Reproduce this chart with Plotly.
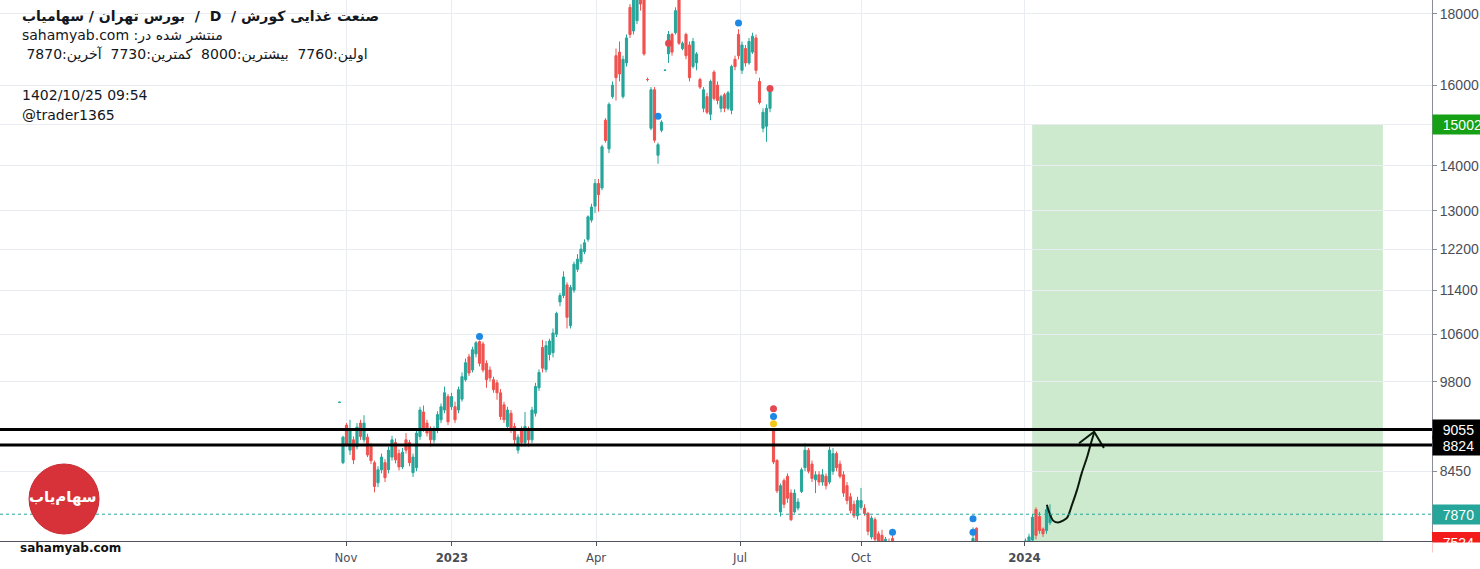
import math
import plotly.graph_objects as go

# ---------------- data ----------------
bar_idx = list(range(-1, 158)) + [180, 181] + list(range(195, 203))

opens = [9470,
 8570, 9120, 8750, 8900, 8800, 9150, 8900, 8940, 8800, 8570,
 8290, 8470, 8570, 8470, 8650, 8860, 8700, 8510, 8900, 8860,
 8430, 8500, 8950, 9320, 9150, 9050, 8900, 9050, 9200, 9350,
 9560, 9400, 9400, 9350, 9520, 9830, 10210, 9990, 10260, 10470,
 10430, 10100, 9990, 9830, 9780, 9620, 9430, 9100, 9300, 9100,
 8750, 9050, 8860, 9050, 8900, 9300, 9700, 10370, 10000, 10250,
 10280, 10600, 11180, 11300, 11500, 10750, 11400, 11800, 11950, 12150,
 12400, 12800, 13100, 13600, 13500, 15100, 14400, 15700, 16800, 16900,
 15700, 16600, 18200, 17500, 17800, 18800, 18500, 16150, 14900, 15880,
 14250, 14850, 16400, 16850, 17400, 17450, 18500, 17000, 17400, 17100,
 16500, 16600, 16150, 15400, 15700, 15250, 16350, 16000, 15400, 15750,
 15400, 15350, 16700, 17400, 16400, 17000, 16600, 16900, 17300, 16100,
 14900, 14950, 15400, 9050, 8600, 7900, 8320, 8380, 8150, 7900,
 7950, 8170, 8500, 8750, 8550, 8330, 8400, 8300, 8380, 8300,
 8450, 8700, 8550, 8400, 8250, 8100, 8000, 7850, 7960, 7950,
 7880, 7580, 7800, 7620, 7600, 7400, 7500, 7560,
 7500, 7690,
 7400, 7450, 7540, 7930, 7840, 7680, 7660, 7760]

highs = [9480,
 8960, 9150, 9200, 8950, 9150, 9200, 9270, 8990, 8850, 8600,
 8520, 8700, 8620, 8800, 8960, 8920, 8760, 8780, 9000, 8900,
 8700, 9050, 9400, 9420, 9200, 9100, 9100, 9330, 9450, 9720,
 9600, 9620, 9480, 9720, 9950, 10180, 10260, 10380, 10480, 10490,
 10470, 10150, 10050, 9880, 9830, 9680, 9480, 9400, 9350, 9150,
 8980, 9100, 9320, 9100, 9400, 9780, 10000, 10500, 10480, 10520,
 10700, 11000, 11350, 11760, 11550, 11500, 11950, 12100, 12300, 12400,
 12900, 13150, 13700, 13700, 14500, 15150, 15550, 16100, 17000, 17200,
 16800, 17400, 18300, 18600, 18800, 19000, 18700, 16200, 15950, 15950,
 14550, 15100, 16420, 17500, 17450, 18200, 18600, 17200, 17450, 17200,
 17300, 16900, 16200, 15950, 15800, 16150, 16400, 16100, 15750, 15800,
 15850, 16550, 16800, 17550, 17200, 17100, 17300, 17450, 17400, 16200,
 15400, 15500, 15950, 9070, 8620, 8280, 8350, 8420, 8200, 8200,
 8080, 8500, 8850, 8780, 8600, 8450, 8450, 8480, 8420, 8800,
 8780, 8730, 8600, 8450, 8300, 8150, 8050, 8100, 8220, 8000,
 7900, 7850, 7830, 7650, 7670, 7580, 7560, 7600,
 7700, 7700,
 7560, 7620, 7870, 7960, 7900, 7700, 7960, 8000]

lows = [9460,
 8550, 8800, 8680, 8550, 8760, 8900, 8860, 8650, 8550, 8160,
 8230, 8420, 8300, 8420, 8600, 8560, 8460, 8480, 8700, 8520,
 8370, 8450, 8900, 9020, 8950, 8800, 8850, 9000, 9150, 9300,
 9120, 9350, 9150, 9300, 9480, 9800, 9890, 9950, 10200, 10050,
 9950, 9700, 9800, 9620, 9510, 9200, 9150, 9050, 9000, 8830,
 8700, 8800, 8800, 8800, 8850, 9250, 9650, 9950, 9950, 10150,
 10200, 10550, 11100, 11250, 10700, 10700, 11350, 11750, 11900, 12100,
 12350, 12750, 12950, 12980, 13450, 14550, 14300, 15650, 15600, 16100,
 15650, 16500, 17300, 17400, 17700, 18100, 16800, 16100, 14850, 14550,
 14050, 14800, 16380, 16600, 16800, 17400, 17100, 16950, 16700, 16100,
 16450, 16400, 15900, 15300, 15250, 15100, 15600, 15500, 15300, 15300,
 15350, 15250, 16400, 16700, 16300, 16500, 16550, 16850, 16300, 15500,
 14800, 14570, 15300, 8550, 8150, 7840, 7950, 8020, 7780, 7880,
 7920, 8150, 8450, 8420, 8300, 8150, 8250, 8250, 8200, 8270,
 8400, 8450, 8350, 8100, 8000, 7880, 7820, 7800, 7930, 7850,
 7600, 7550, 7500, 7400, 7350, 7350, 7300, 7400,
 7400, 7400,
 7350, 7400, 7520, 7550, 7620, 7580, 7620, 7730]

closes = [9470,
 8940, 8830, 9050, 8610, 9090, 8950, 9150, 8680, 8600, 8240,
 8470, 8650, 8360, 8750, 8900, 8610, 8510, 8720, 8750, 8570,
 8650, 9000, 9350, 9080, 9000, 8900, 9050, 9280, 9400, 9620,
 9170, 9560, 9200, 9670, 9880, 10110, 9940, 10330, 10450, 10100,
 9990, 9830, 9860, 9670, 9620, 9250, 9200, 9350, 9050, 8900,
 8940, 8860, 9100, 8900, 9350, 9720, 9950, 10020, 10400, 10480,
 10620, 10970, 11300, 11650, 10900, 11450, 11900, 12000, 12200, 12330,
 12870, 13080, 13600, 13350, 14450, 14600, 15500, 16000, 16200, 16300,
 16700, 17300, 17400, 18500, 18600, 18300, 16850, 16150, 15880, 14610,
 14500, 15050, 16400, 17400, 16900, 18100, 17150, 17150, 16800, 16200,
 17200, 16850, 15950, 15880, 15300, 16100, 15650, 15600, 15700, 15400,
 15800, 16500, 16500, 16800, 17100, 16600, 17200, 17350, 16400, 15550,
 15300, 15400, 15900, 8580, 8180, 8250, 8000, 8080, 7800, 8150,
 8030, 8470, 8750, 8450, 8350, 8400, 8300, 8400, 8250, 8750,
 8700, 8500, 8380, 8150, 8050, 7920, 7850, 8050, 8050, 7880,
 7650, 7820, 7550, 7450, 7400, 7550, 7350, 7450,
 7560, 7480,
 7530, 7580, 7830, 7600, 7660, 7620, 7930, 7870]

# event markers (dividend / split etc.)
event_idx = [39, 90, 93, 113, 122, 123, 123, 123, 157, 180, 180]
event_price = [10560, 15200, 17150, 17730, 15910, 9370, 9250, 9140, 7640, 7810, 7640]
event_color = ["#1e88e5", "#1e88e5", "#e5484f", "#1e88e5", "#e5484f",
               "#e5484f", "#1e88e5", "#f5c518", "#1e88e5", "#1e88e5", "#1e88e5"]

# x ticks (bar positions of month starts)
tick_pos = [0.857, 31.14, 72.29, 113.43, 148.0, 194.71]
tick_text = ["Nov", "<b>2023</b>", "Apr", "Jul", "Oct", "<b>2024</b>"]

# price axis ticks (15000 label sits under the 15002 tag)
ytick_vals = [8450, 9800, 10600, 11400, 12200, 13000, 14000, 15000, 16000, 18000]
ytick_text = ["8450", "9800", "10600", "11400", "12200", "13000", "14000", "", "16000", "18000"]

# drawn levels / tools
support_levels = [9055, 8824]
last_price = 7870
target_price = 15002
stop_price = 7524
zone_start_idx, zone_end_idx = 196.9, 297.1

# hand-drawn arrow (bar index, price)
arrow_x = [201.1, 202.0, 202.9, 204.3, 205.7, 206.9, 208.3, 209.7, 211.1, 212.6, 213.7, 214.6]
arrow_y = [7995, 7865, 7787, 7762, 7787, 7826, 7995, 8190, 8430, 8650, 8850, 9005]
head_x = [210.3, 214.6, 217.4]
head_y = [8850, 9020, 8780]

# price labels on the axis
price_labels = [(15002, "15002", "#16a016"), (9055, "9055", "#000000"),
                (8824, "8824", "#000000"), (7870, "7870", "#26a69a")]

# ---------------- layout helpers ----------------
W, H = 1480, 569
MR, MB = 48, 28
PW, PH = W - MR, H - MB


def px(x):
    return x / PW


def py(y):
    return (PH - y) / PH


UP, DOWN = "#26a69a", "#ef5350"
GRID = "#e9edf2"
FONT = "DejaVu Sans"

fig = go.Figure()

fig.add_trace(go.Candlestick(
    x=bar_idx, open=opens, high=highs, low=lows, close=closes,
    increasing=dict(line=dict(color=UP, width=1), fillcolor=UP),
    decreasing=dict(line=dict(color=DOWN, width=1), fillcolor=DOWN),
    whiskerwidth=0, hoverinfo="skip", showlegend=False))

fig.add_trace(go.Scatter(
    x=event_idx, y=event_price, mode="markers",
    marker=dict(size=7, color=event_color, line=dict(width=0)),
    hoverinfo="skip", showlegend=False))

fig.add_trace(go.Scatter(
    x=arrow_x, y=arrow_y, mode="lines",
    line=dict(color="#0c1a0c", width=2, shape="spline", smoothing=0.8),
    hoverinfo="skip", showlegend=False))
fig.add_trace(go.Scatter(
    x=head_x, y=head_y, mode="lines",
    line=dict(color="#0c1a0c", width=2),
    hoverinfo="skip", showlegend=False))

shapes = []
# long-position target zone
shapes.append(dict(type="rect", xref="x", yref="y", x0=zone_start_idx, x1=zone_end_idx,
                   y0=7300, y1=target_price, fillcolor="rgba(76,175,80,0.28)",
                   line=dict(width=0), layer="below"))
# last price dotted line
shapes.append(dict(type="line", xref="paper", yref="y", x0=0, x1=1, y0=last_price, y1=last_price,
                   line=dict(color=UP, width=1, dash="dot")))
for lv in support_levels:
    shapes.append(dict(type="line", xref="paper", yref="y", x0=0, x1=1, y0=lv, y1=lv,
                       line=dict(color="#000000", width=3)))
# logo circle
shapes.append(dict(type="circle", xref="paper", yref="paper",
                   x0=px(29), x1=px(99), y0=py(534), y1=py(464),
                   fillcolor="#d7323a", line=dict(color="#c92a32", width=1)))
# stop label (partly hidden)
shapes.append(dict(type="rect", xref="paper", yref="paper",
                   x0=1.0, x1=W / PW, y0=py(541), y1=py(532),
                   fillcolor="#f21c1c", line=dict(width=0)))

annotations = []
RLE, PDF = "\u202b", "\u202c"
NB = "\u00a0"
header = [
    (16, RLE + "صنعت غذایی کورش /" + NB + " D " + NB + "/" + NB + " بورس تهران / سهامیاب" + PDF, True),
    (35, RLE + "منتشر شده در: sahamyab.com" + PDF, False),
    (55, RLE + "اولین:7760" + NB + " بیشترین:8000" + NB + " کمترین:7730" + NB + " آخرین:7870" + NB + PDF, False),
    (95, "1402/10/25 09:54", False),
    (115, "@trader1365", False),
]
for ypx, txt, bold in header:
    annotations.append(dict(xref="paper", yref="paper", x=px(20), y=py(ypx),
                            xanchor="left", yanchor="middle", showarrow=False,
                            text=("<b>%s</b>" % txt) if bold else txt,
                            font=dict(family=FONT, size=14, color="#131722")))

for val, txt, col in price_labels:
    annotations.append(dict(xref="paper", yref="y", x=1.0, y=math.log10(val),
                            xanchor="left", yanchor="middle", showarrow=False,
                            text=NB + NB + txt, align="left", width=60, height=15,
                            bgcolor=col, borderpad=2,
                            font=dict(family="Liberation Sans", size=14, color="#ffffff")))
annotations.append(dict(xref="paper", yref="paper", x=1.0, y=py(532), xanchor="left",
                        yanchor="top", showarrow=False, text=NB + NB + "7524", align="left",
                        width=60, height=15, bgcolor="#f21c1c", borderpad=2,
                        font=dict(family="Liberation Sans", size=14, color="#ffffff")))
annotations.append(dict(xref="paper", yref="paper", x=1.0, y=py(541.5), xanchor="left",
                        yanchor="top", showarrow=False, text=" ", width=70, height=22,
                        bgcolor="#ffffff", borderpad=0))

# logo texts
annotations.append(dict(xref="paper", yref="paper", x=px(63), y=py(497),
                        xanchor="center", yanchor="middle", showarrow=False,
                        text="<b>" + RLE + "سهام‌یاب" + PDF + "</b>",
                        font=dict(family=FONT, size=15, color="#ffffff")))
annotations.append(dict(xref="paper", yref="paper", x=px(18), y=py(548),
                        xanchor="left", yanchor="middle", showarrow=False,
                        text="<b>sahamyab.com</b>",
                        font=dict(family=FONT, size=12, color="#111111")))

fig.update_layout(
    width=W, height=H,
    margin=dict(l=0, r=MR, t=0, b=MB, pad=0),
    paper_bgcolor="#ffffff", plot_bgcolor="#ffffff",
    shapes=shapes, annotations=annotations,
    hovermode=False, showlegend=False, boxgap=0.12,
    xaxis=dict(range=[-98, 311.14], tickmode="array", tickvals=tick_pos, ticktext=tick_text,
               showgrid=True, gridcolor=GRID, gridwidth=1, zeroline=False,
               showline=True, linecolor="#50535e", linewidth=1,
               ticks="outside", ticklen=4, tickcolor="#50535e",
               tickfont=dict(family="Liberation Sans Narrow, DejaVu Sans Condensed, Liberation Sans",
                             size=13, color="#4a4d57"),
               rangeslider=dict(visible=False), fixedrange=True, automargin=False),
    yaxis=dict(type="log", side="right",
               range=[math.log10(7529), math.log10(18421)],
               tickmode="array", tickvals=ytick_vals, ticktext=ytick_text,
               showgrid=True, gridcolor=GRID, gridwidth=1, zeroline=False,
               showline=True, linecolor="#8a8d96", linewidth=1,
               ticks="outside", ticklen=4, tickcolor="#8a8d96",
               tickfont=dict(family="Liberation Sans", size=14, color="#4a4d57"),
               fixedrange=True, automargin=False),
)

fig.write_html("out.html", config={"displayModeBar": False},
               post_script="document.body.style.margin='0';document.body.style.overflow='hidden';")
